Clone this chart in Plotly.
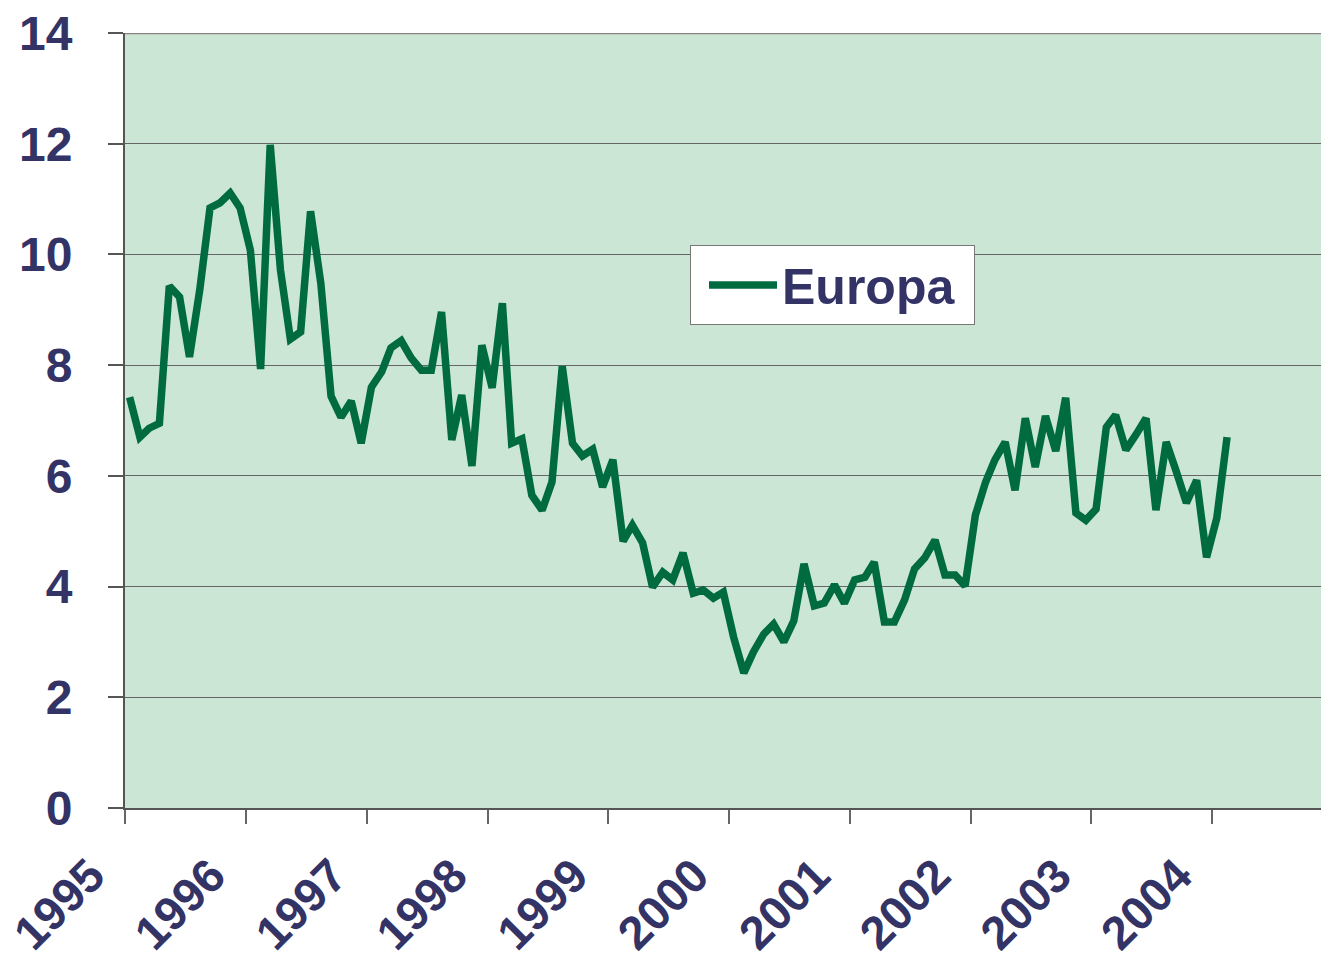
import pandas as pd
import plotly.graph_objects as go

# Monthly values, Jan 1995 - Feb 2004
europa = [
    7.42, 6.70, 6.86, 6.95, 9.43, 9.23, 8.15, 9.36, 10.84, 10.93, 11.11, 10.84,
    10.08, 7.93, 11.98, 9.72, 8.47, 8.60, 10.78, 9.48, 7.44, 7.06, 7.35, 6.59,
    7.60, 7.88, 8.31, 8.44, 8.13, 7.91, 7.91, 8.96, 6.65, 7.46, 6.18, 8.36,
    7.59, 9.12, 6.59, 6.67, 5.65, 5.38, 5.89, 7.98, 6.59, 6.36, 6.48, 5.80,
    6.29, 4.82, 5.11, 4.79, 3.99, 4.26, 4.12, 4.61, 3.88, 3.94, 3.79, 3.90,
    3.09, 2.44, 2.82, 3.14, 3.32, 3.00, 3.38, 4.41, 3.65, 3.70, 4.03, 3.70,
    4.12, 4.17, 4.44, 3.36, 3.36, 3.76, 4.32, 4.52, 4.84, 4.21, 4.21, 4.01,
    5.29, 5.89, 6.29, 6.61, 5.74, 7.04, 6.16, 7.08, 6.45, 7.41, 5.33, 5.20,
    5.40, 6.88, 7.10, 6.47, 6.74, 7.04, 5.38, 6.61, 6.07, 5.51, 5.92, 4.53,
    5.24, 6.70,
]
dates = pd.date_range("1995-01-01", periods=len(europa), freq="MS") + pd.Timedelta(days=14)

year_ticks = [f"{y}-01-01" for y in range(1995, 2005)]
year_labels = [str(y) for y in range(1995, 2005)]

TEXT = "#333366"
FONT = "Liberation Sans, Arial, sans-serif"

fig = go.Figure()
fig.add_trace(go.Scatter(
    x=dates, y=europa, mode="lines", name="Europa\u00a0",
    line=dict(color="#006B3F", width=7.5),
))

fig.update_layout(
    width=1321, height=963,
    margin=dict(l=125, r=0, t=33, b=155, autoexpand=False),
    paper_bgcolor="white",
    plot_bgcolor="#CCE6D5",
    showlegend=True,
    legend=dict(
        x=0.4724, y=0.7265, xanchor="left", yanchor="top",
        bgcolor="white", bordercolor="#777777", borderwidth=1,
        font=dict(family=FONT, size=50, color=TEXT, weight="bold"),
        itemwidth=68, indentation=13,
    ),
    shapes=[dict(type="line", xref="paper", yref="y", x0=0, x1=1, y0=14, y1=14,
                 line=dict(color="#8C8484", width=2.5), layer="above")],
)
fig.update_xaxes(
    type="date",
    range=["1995-01-01", "2004-11-25"],
    tickvals=year_ticks, ticktext=year_labels,
    tickangle=-45,
    ticks="outside", ticklen=14, tickwidth=1.5, tickcolor="#666666",
    showgrid=False, showline=True, linecolor="#555555", linewidth=2,
    tickfont=dict(family=FONT, size=47, color=TEXT, weight="bold"),
    ticklabelstandoff=5, ticklabelshift=-34, ticklabeloverflow="allow",
    zeroline=False, automargin=False,
)
fig.update_yaxes(
    range=[0, 14], dtick=2, tick0=0,
    ticks="outside", ticklen=15, tickwidth=1.5, tickcolor="#555555",
    showgrid=True, gridcolor="#666666", gridwidth=1.2,
    showline=True, linecolor="#555555", linewidth=2,
    tickfont=dict(family=FONT, size=48, color=TEXT, weight="bold"),
    ticklabelstandoff=26, ticklabeloverflow="allow",
    zeroline=False, automargin=False,
)

fig.write_html(
    "out.html",
    config={"displayModeBar": False},
    post_script="document.body.style.margin='0px';",
)
